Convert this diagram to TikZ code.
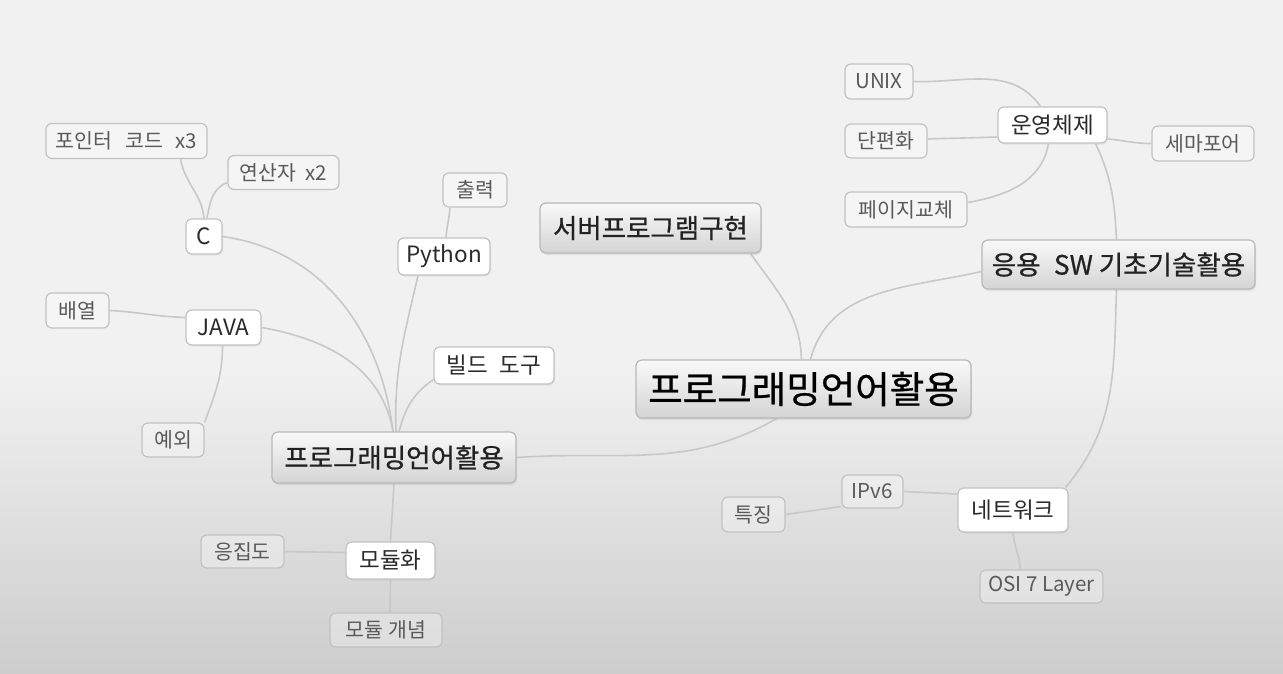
\documentclass[tikz,border=0pt]{standalone}
\usepackage{fontspec}
\setmainfont{Noto Sans CJK KR}
\newfontfamily\heavycjk{Noto Sans CJK KR}[FakeBold=0.7]
\usetikzlibrary{backgrounds,shadows}
\definecolor{bgtop}{HTML}{F1F1F1}
\definecolor{bgbot}{HTML}{CDCDCD}
\definecolor{conn}{HTML}{C8C8C8}
\definecolor{leafline}{HTML}{C2C2C2}
\definecolor{leaftext}{HTML}{5A5A5A}
\definecolor{subtext}{HTML}{2A2A2A}
\definecolor{maintext}{HTML}{222222}
\definecolor{mainline}{HTML}{B8B8B8}
\definecolor{maintop}{HTML}{F9F9F9}
\definecolor{mainbot}{HTML}{D4D4D4}
\tikzset{
  box/.style={rounded corners=6pt, line width=1.2pt, align=center, inner sep=0pt},
  leaf/.style={box, draw=leafline, fill=white, fill opacity=0.3, text opacity=1, text=leaftext,
    font=\fontsize{20.5}{22}\selectfont},
  sub/.style={box, draw=leafline, fill=white, text=subtext,
    font=\fontsize{22.5}{24}\selectfont,
    drop shadow={opacity=0.12, shadow xshift=1pt, shadow yshift=-1.5pt}},
  topic/.style={box, draw=mainline, top color=maintop, bottom color=mainbot, text=maintext,
    font=\heavycjk\fontsize{26.5}{28}\selectfont,
    drop shadow={opacity=0.15, shadow xshift=1pt, shadow yshift=-2pt}},
  roottopic/.style={topic, text=black, font=\heavycjk\fontsize{37.5}{40}\selectfont},
  wh/.style 2 args={minimum width=#1pt, minimum height=#2pt},
  link/.style={draw=conn, line width=1.6pt},
}
\begin{document}
\begin{tikzpicture}[x=1pt,y=1pt]
\useasboundingbox (0,0) rectangle (1283,-673);
\begin{pgfonlayer}{background}
  \fill[bgtop] (0,0) rectangle (1283,-370);
  \shade[top color=bgtop, bottom color=bgbot] (0,-370) rectangle (1283,-673);
\end{pgfonlayer}

% central topic
\node[roottopic, wh={335}{58}] (root) at (803.5,-389) {프로그래밍언어활용};
% main topics
\node[topic, wh={221}{50}] (srv) at (650.5,-228) {서버프로그램구현};
\node[topic, wh={273}{49}] (app) at (1118.5,-264.5) {응용\hspace{0.5em}SW 기초기술활용};
\node[topic, wh={244}{51}] (lang) at (394,-457.5) {프로그래밍언어활용};
% sub topics
\node[sub, wh={36}{35}] (c) at (204,-236.5) {C};
\node[sub, wh={75}{35}] (java) at (223.5,-327.5) {JAVA};
\node[sub, wh={92}{37}] (py) at (444,-256.5) {Python};
\node[sub, wh={120}{37}] (build) at (494,-365.5) {빌드\hspace{0.5em}도구};
\node[sub, wh={89}{37}] (mod) at (390.5,-560.5) {모듈화};
\node[sub, wh={109}{36}] (os) at (1052.5,-125) {운영체제};
\node[sub, wh={110}{44}] (net) at (1013,-510) {네트워크};
% leaves
\node[leaf, wh={161}{35}] (ptr) at (126.5,-141) {포인터\hspace{0.65em}코드\hspace{0.6em}x3};
\node[leaf, wh={111}{34}] (op) at (283.5,-172.5) {연산자\hspace{0.45em}x2};
\node[leaf, wh={64}{34}] (out) at (475,-190) {출력};
\node[leaf, wh={63}{35}] (arr) at (77.5,-310.5) {배열};
\node[leaf, wh={62}{34}] (exc) at (173,-440) {예외};
\node[leaf, wh={83}{33}] (coh) at (242.5,-551.5) {응집도};
\node[leaf, wh={112}{34}] (con) at (386,-630) {모듈 개념};
\node[leaf, wh={68}{35}] (unix) at (879,-81.5) {UNIX};
\node[leaf, wh={82}{34}] (frag) at (886,-141) {단편화};
\node[leaf, wh={102}{35}] (sem) at (1203,-143.5) {세마포어};
\node[leaf, wh={122}{35}] (page) at (906,-209.5) {페이지교체};
\node[leaf, wh={61}{33}] (ipv6) at (872.5,-491.5) {IPv6};
\node[leaf, wh={63}{35}] (feat) at (753.5,-514.5) {특징};
\node[leaf, wh={123}{33}] (osi) at (1041.5,-586.5) {OSI 7 Layer};

\begin{pgfonlayer}{background}
  % central topic
  \draw[link] ([xshift=-2pt]root.north) to[out=92,in=-55] ([xshift=-11pt]srv.south east);
  \draw[link] ([xshift=7pt]root.north) to[out=75,in=193] ([yshift=-7pt]app.west);
  \draw[link] ([xshift=-27pt]root.south) to[out=-150,in=4] (lang.east);
  % language topic
  \draw[link] ([xshift=-1pt]lang.north) to[out=97,in=-8] (c.east);
  \draw[link] ([xshift=-1pt]lang.north) to[out=100,in=-10] (java.east);
  \draw[link] ([xshift=2pt]lang.north) to[out=92,in=-103] ([xshift=-26pt]py.south);
  \draw[link] ([xshift=5pt]lang.north) to[out=75,in=-145] ([yshift=-14pt]build.west);
  \draw[link] (lang.south) to (mod.north);
  % C
  \draw[link] (c.north) to[out=95,in=-80] ([xshift=54pt]ptr.south);
  \draw[link] ([xshift=3pt]c.north) to[out=80,in=200] ([yshift=-10pt]op.west);
  % JAVA
  \draw[link] ([yshift=10pt]java.west) to[out=178,in=-3] (arr.east);
  \draw[link] ([xshift=-1pt]java.south) to[out=-90,in=70] (exc.north east);
  % Python
  \draw[link] ([xshift=2pt]py.north) to[out=85,in=-95] ([xshift=-25pt]out.south);
  % module
  \draw[link] ([yshift=8pt]mod.west) to (coh.east);
  \draw[link] (mod.south) to ([xshift=4pt]con.north);
  % application topic
  \draw[link] ([xshift=-2pt]app.north) to[out=93,in=-65] ([xshift=-12pt]os.south east);
  \draw[link] ([xshift=-2pt]app.south) to[out=-92,in=50] ([xshift=-3pt]net.north east);
  % OS
  \draw[link] ([xshift=-12pt]os.north) to[out=125,in=-2] (unix.east);
  \draw[link] ([yshift=-12pt]os.west) to[out=182,in=2] ([yshift=2pt]frag.east);
  \draw[link] ([xshift=-4pt]os.south) to[out=-100,in=10] ([yshift=7pt]page.east);
  \draw[link] ([yshift=-14pt]os.east) to[out=-5,in=180] (sem.west);
  % network
  \draw[link] ([yshift=16pt]net.west) to (ipv6.east);
  \draw[link] ([yshift=-15pt]ipv6.west) to (feat.east);
  \draw[link] (net.south) to[out=-85,in=95] ([xshift=-21pt]osi.north);
\end{pgfonlayer}
\end{tikzpicture}
\end{document}
